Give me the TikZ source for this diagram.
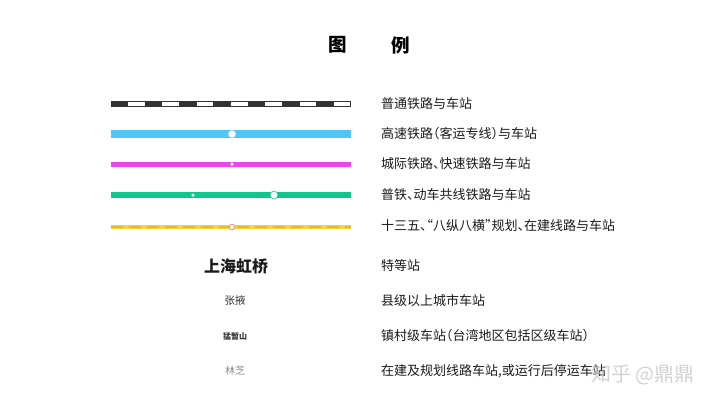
\documentclass[tikz,border=0pt]{standalone}
\usepackage{fontspec}
\setmainfont{Noto Sans CJK SC}
\newfontfamily\cjk{Noto Sans CJK SC}
\newfontfamily\cjkh[RawFeature=+halt]{Noto Sans CJK SC}
\definecolor{hsblue}{HTML}{52C5F8}
\definecolor{icmag}{HTML}{EE44EE}
\definecolor{mixgreen}{HTML}{12C58A}
\definecolor{planyel}{HTML}{F6D33C}
\definecolor{planyeld}{HTML}{EAB820}
\definecolor{planorange}{HTML}{E8A070}
\definecolor{txt}{HTML}{1A1A1A}
\tikzset{
  legtext/.style={anchor=west, font=\cjkh\fontsize{13}{14}\selectfont, text=txt, inner sep=0pt},
  sta/.style={font=\cjk\fontsize{#1}{#1}\selectfont, inner sep=0pt, anchor=center},
  wdot/.style={circle, fill=white, inner sep=0pt, minimum size=#1},
}
\begin{document}
\begin{tikzpicture}[x=1pt,y=-1pt]
\useasboundingbox (0,0) rectangle (720,405);
\fill[white] (0,0) rectangle (720,405);
% title
\node[font=\cjk\bfseries\fontsize{18.5}{18.5}\selectfont, text=black] (t1) at (338,45) {图};
\node[font=\cjk\bfseries\fontsize{18.5}{18.5}\selectfont, text=black] (t2) at (401,45) {例};
% line 1: ordinary railway
\coordinate (a1) at (111,104); \coordinate (b1) at (351,104);
\draw[line width=6pt, black!80] (a1) -- (b1);
\foreach \i in {1,3,5,7,9,11,13}{
  \fill[white] ({111+\i*240/14},102.3) rectangle ({111+(\i+1)*240/14-0.6},105.7);
}
\node[wdot=3pt] (s1) at (232,104) {};
% line 2: high speed
\coordinate (a2) at (111,134); \coordinate (b2) at (351,134);
\draw[line width=8pt, hsblue] (a2) -- (b2);
\node[wdot=7.5pt] (s2) at (232,134) {};
% line 3: intercity
\coordinate (a3) at (111,164); \coordinate (b3) at (351,164);
\draw[line width=5pt, icmag] (a3) -- (b3);
\node[wdot=3.5pt] (s3) at (232,164) {};
% line 4: mixed
\coordinate (a4) at (111,195); \coordinate (b4) at (351,195);
\draw[line width=6pt, mixgreen] (a4) -- (b4);
\node[wdot=3.5pt] (s4a) at (193,195) {};
\node[circle, fill=white, draw=mixgreen, line width=0.6pt, inner sep=0pt, minimum size=8pt] (s4b) at (274,195) {};
% line 5: planned
\coordinate (a5) at (111,227); \coordinate (b5) at (351,227);
\draw[line width=4pt, planyel] (a5) -- (b5);
\draw[line width=1.6pt, planyeld, dash pattern=on 12pt off 6pt] (a5) -- (b5);
\node[circle, fill=white, draw=planorange, line width=1pt, inner sep=0pt, minimum size=5.5pt] (s5) at (232,227) {};
% station labels
\node[sta=16.5, font=\cjk\bfseries\fontsize{16}{16}\selectfont, text=txt] (n1) at (236,266) {上海虹桥};
\node[sta=10.5, text=black!80] (n2) at (235,301) {张掖};
\node[sta=8, font=\cjk\bfseries\fontsize{8}{8}\selectfont, text=black!80] (n3) at (235,336) {猛暂山};
\node[sta=10, text=black!45] (n4) at (235,371) {林芝};
% legend text
\node[legtext] (l1) at (381,104) {普通铁路与车站};
\node[legtext] (l2) at (381,134) {高速铁路（客运专线）与车站};
\node[legtext] (l3) at (381,164) {城际铁路、快速铁路与车站};
\node[legtext] (l4) at (381,195) {普铁、动车共线铁路与车站};
\node[legtext] (l5) at (381,226) {十三五、“八纵八横”规划、在建线路与车站};
\node[legtext] (l6) at (381,266) {特等站};
\node[legtext] (l7) at (381,301) {县级以上城市车站};
\node[legtext] (l8) at (381,336) {镇村级车站（台湾地区包括区级车站）};
\node[legtext] (l9) at (381,371) {在建及规划线路车站,或运行后停运车站};
% watermark
\node[anchor=west, font=\cjk\fontsize{20}{20}\selectfont, text=black!22, opacity=0.8, inner sep=0pt] (wm) at (591,375) {知乎 @鼎鼎};
\end{tikzpicture}
\end{document}
